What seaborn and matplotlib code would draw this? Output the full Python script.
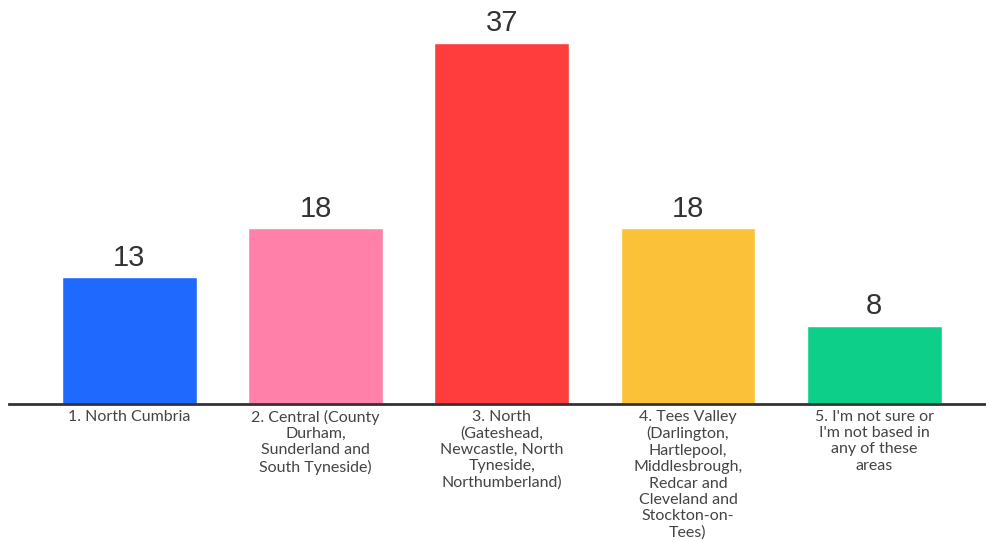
import matplotlib
matplotlib.use("Agg")
import matplotlib.pyplot as plt
import seaborn as sns
import pandas as pd

categories = [
    "1. North Cumbria",
    "2. Central (County\nDurham,\nSunderland and\nSouth Tyneside)",
    "3. North\n(Gateshead,\nNewcastle, North\nTyneside,\nNorthumberland)",
    "4. Tees Valley\n(Darlington,\nHartlepool,\nMiddlesbrough,\nRedcar and\nCleveland and\nStockton-on-\nTees)",
    "5. I'm not sure or\nI'm not based in\nany of these\nareas",
]
values = [13, 18, 37, 18, 8]
colors = ["#1F69FF", "#FF80A8", "#FF3D3D", "#FBC139", "#0ECF8A"]

df = pd.DataFrame({"region": categories, "count": values})

sns.set_theme(style="white")
plt.rcParams["font.family"] = ["Lato", "DejaVu Sans"]

fig = plt.figure(figsize=(9.86, 5.42), dpi=100)
ax = fig.add_axes([0.009, 0.2546, 0.991, 0.72])

sns.barplot(data=df, x="region", y="count", hue="region", palette=colors,
            legend=False, width=0.724, saturation=1, ax=ax)

for container in ax.containers:
    ax.bar_label(container, padding=4, fontsize=21, color="#333333",
                 family="Liberation Sans")

ax.set_xlim(-0.646, 4.6)
ax.set_ylim(0, 40)
ax.set_xlabel("")
ax.set_ylabel("")
ax.set_yticks([])
for side in ["top", "right", "left"]:
    ax.spines[side].set_visible(False)
ax.spines["bottom"].set_color("#333333")
ax.spines["bottom"].set_linewidth(2)
ax.tick_params(axis="x", length=0, pad=4, labelsize=11.5, labelcolor="#444444")
for lbl in ax.get_xticklabels():
    lbl.set_verticalalignment("top")
    lbl.set_linespacing(1.22)

fig.savefig("out.png", dpi=100, facecolor="white")
